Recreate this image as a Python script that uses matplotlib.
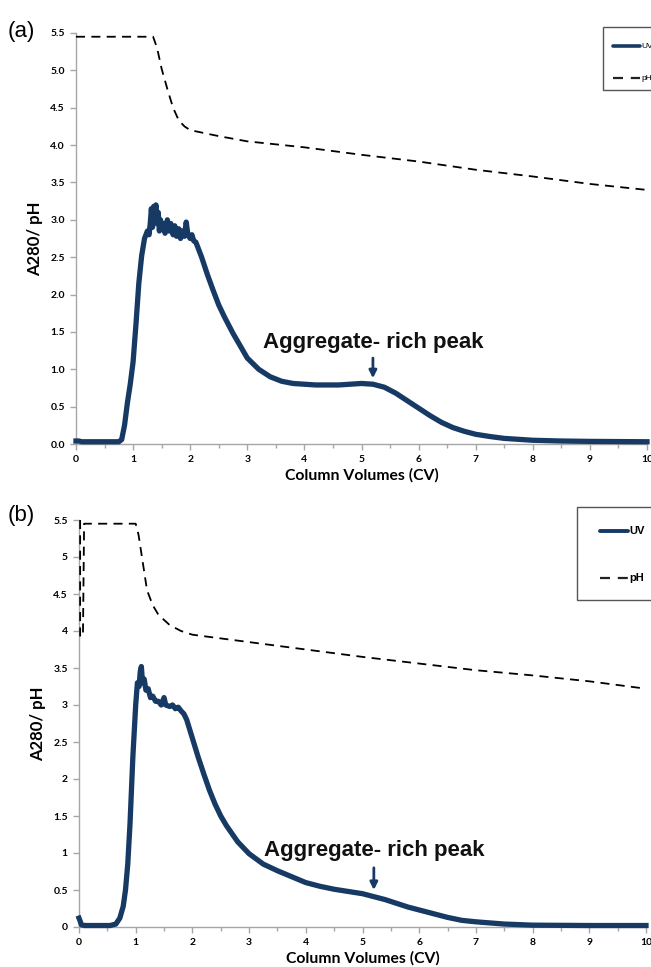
import matplotlib
matplotlib.use("Agg")
import matplotlib.pyplot as plt
from matplotlib.ticker import MultipleLocator, FormatStrFormatter, FuncFormatter
from matplotlib.patches import Rectangle
from matplotlib.lines import Line2D

# ---------------- data ----------------
# Panel (a)
uv_a_x = [0, 0.05, 0.1, 0.75, 0.8, 0.85, 0.9, 0.95, 1.0, 1.05, 1.1, 1.15, 1.2, 1.25, 1.28,
          1.3, 1.32, 1.34, 1.36, 1.38, 1.40, 1.42, 1.44, 1.46, 1.48, 1.50, 1.53, 1.56, 1.6,
          1.63, 1.66, 1.7, 1.73, 1.76, 1.8, 1.83, 1.86, 1.9, 1.93, 1.96, 2.0, 2.03, 2.06,
          2.1, 2.15, 2.2, 2.3, 2.4, 2.5, 2.6, 2.75, 3.0, 3.2, 3.4, 3.6, 3.8, 4.0, 4.2, 4.4,
          4.6, 4.8, 5.0, 5.2, 5.4, 5.6, 5.8, 6.0, 6.2, 6.4, 6.6, 6.8, 7.0, 7.25, 7.5, 8.0,
          8.5, 9.0, 10.0]
uv_a_y = [0.04, 0.04, 0.03, 0.03, 0.06, 0.25, 0.55, 0.8, 1.1, 1.6, 2.15, 2.52, 2.75, 2.85, 2.8,
          2.95, 3.15, 2.9, 3.18, 3.1, 3.2, 2.95, 3.1, 2.85, 3.0, 2.88, 2.95, 2.82, 3.0,
          2.85, 2.95, 2.8, 2.92, 2.78, 2.88, 2.75, 2.85, 2.78, 2.97, 2.8, 2.75, 2.8, 2.72,
          2.7, 2.6, 2.5, 2.27, 2.06, 1.86, 1.7, 1.48, 1.15, 1.0, 0.9, 0.84, 0.81, 0.8, 0.79, 0.79,
          0.79, 0.8, 0.81, 0.8, 0.76, 0.68, 0.58, 0.48, 0.38, 0.29, 0.22, 0.17, 0.13, 0.1, 0.075, 0.05,
          0.04, 0.035, 0.03]
ph_a_x = [0, 1.35, 1.42, 1.5, 1.6, 1.7, 1.8, 1.9, 2.0, 2.5, 3.0, 4.0, 5.0, 6.0, 7.0, 8.0, 9.0, 10.0]
ph_a_y = [5.45, 5.45, 5.3, 5.02, 4.75, 4.5, 4.33, 4.25, 4.2, 4.12, 4.05, 3.97, 3.87, 3.78, 3.67, 3.58, 3.48, 3.4]

# Panel (b)
uv_b_x = [0, 0.02, 0.04, 0.1, 0.55, 0.65, 0.72, 0.78, 0.82, 0.86, 0.9, 0.95, 1.0, 1.03, 1.06,
          1.08, 1.1, 1.12, 1.15, 1.18, 1.22, 1.26, 1.3, 1.35, 1.4, 1.45, 1.5, 1.53, 1.6, 1.65,
          1.7, 1.75, 1.8, 1.85, 1.9, 2.0, 2.1, 2.2, 2.3, 2.4, 2.5, 2.6, 2.8, 3.0, 3.25, 3.5,
          3.75, 4.0, 4.25, 4.5, 4.75, 5.0, 5.2, 5.4, 5.6, 5.8, 6.0, 6.25, 6.5, 6.75, 7.0,
          7.5, 8.0, 9.0, 10.0]
uv_b_y = [0.12, 0.08, 0.03, 0.02, 0.02, 0.04, 0.12, 0.28, 0.5, 0.85, 1.4, 2.3, 3.0, 3.3, 3.25,
          3.45, 3.52, 3.3, 3.35, 3.2, 3.22, 3.1, 3.12, 3.05, 3.05, 3.0, 3.1, 3.0, 2.98, 3.0,
          2.95, 2.97, 2.92, 2.88, 2.8, 2.55, 2.3, 2.07, 1.85, 1.66, 1.5, 1.37, 1.15, 0.99, 0.85, 0.76,
          0.68, 0.6, 0.55, 0.51, 0.48, 0.45, 0.41, 0.37, 0.32, 0.27, 0.23, 0.18, 0.13, 0.09, 0.07,
          0.04, 0.025, 0.02, 0.02]
ph_b_x = [0.02, 0.02, 0.07, 0.09, 1.0, 1.05, 1.1, 1.2, 1.3, 1.4, 1.6, 1.8, 2.0, 3.0, 4.0, 5.0, 6.0, 7.0, 8.0, 9.0, 10.0]
ph_b_y = [5.5, 3.92, 3.95, 5.45, 5.45, 5.3, 5.05, 4.55, 4.35, 4.22, 4.08, 4.0, 3.95, 3.85, 3.75, 3.65, 3.56, 3.47, 3.4, 3.32, 3.22]

x_ticks = list(range(0, 11))
y_ticks = [0, 0.5, 1, 1.5, 2, 2.5, 3, 3.5, 4, 4.5, 5, 5.5]
legend_labels = ["UV", "pH"]
annot_text = "Aggregate- rich peak"

# ---------------- style ----------------
UV_COLOR = "#173a64"
SPINE = "#a6a6a6"
TICK_FONT = "Lato"
W, H = 651, 967

fig = plt.figure(figsize=(W / 100, H / 100), dpi=100)
fig.patch.set_facecolor("white")


def fx(px):
    return px / W


def fy(py):
    return 1 - py / H


def setup(ax, fmt):
    ax.set_xlim(0, 10)
    ax.set_ylim(0, 5.5)
    for s in ["top", "right"]:
        ax.spines[s].set_visible(False)
    for s in ["left", "bottom"]:
        ax.spines[s].set_color(SPINE)
        ax.spines[s].set_linewidth(1.0)
    ax.set_xticks(x_ticks)
    ax.xaxis.set_minor_locator(MultipleLocator(0.5))
    ax.set_yticks(y_ticks)
    ax.yaxis.set_major_formatter(fmt)
    ax.tick_params(axis="both", which="major", length=4, width=1, color=SPINE, direction="out",
                   labelsize=7.5, pad=4)
    ax.tick_params(axis="x", which="minor", length=3, width=1, color=SPINE, direction="out")
    for lab in ax.get_xticklabels() + ax.get_yticklabels():
        lab.set_fontfamily(TICK_FONT)
        lab.set_fontweight("bold")
    ax.set_xlabel("Column Volumes (CV)", fontsize=11.3, fontweight="bold", family=TICK_FONT, labelpad=3)
    ax.set_ylabel("A280/ pH", fontsize=12, fontweight="bold", family=TICK_FONT, labelpad=5)


def legend_box(left, top, bottom, y_uv, y_ph, x0, x1, fs, bold, uv_lw):
    fig.add_artist(Rectangle((fx(left), fy(bottom)), fx(700) - fx(left), fy(top) - fy(bottom),
                             transform=fig.transFigure, facecolor="white", edgecolor="#555555",
                             lw=1.0, zorder=5))
    fig.add_artist(Line2D([fx(x0), fx(x1)], [fy(y_uv), fy(y_uv)], transform=fig.transFigure,
                          color=UV_COLOR, lw=uv_lw, solid_capstyle="round", zorder=6))
    fig.add_artist(Line2D([fx(x0), fx(x1)], [fy(y_ph), fy(y_ph)], transform=fig.transFigure,
                          color="#222222", lw=1.6, linestyle=(0, (4.5, 3.5)), zorder=6))
    for lbl, yy in zip(legend_labels, [y_uv, y_ph]):
        fig.text(fx(x1 + 1.5), fy(yy), lbl, fontsize=fs, family="Liberation Sans",
                 fontweight="bold" if bold else "normal", va="center", ha="left", zorder=7)


def panel(ax, ux, uy, px, py, arrow_y0, arrow_y1, text_y):
    ax.plot(ux, uy, color=UV_COLOR, lw=3.8, solid_joinstyle="round", clip_on=False, zorder=3)
    ax.plot(px, py, color="black", lw=1.3, linestyle=(0, (5, 3.5)), zorder=4)
    ax.annotate("", xy=(5.2, arrow_y1), xytext=(5.2, arrow_y0),
                arrowprops=dict(arrowstyle="-|>", color=UV_COLOR, lw=2, mutation_scale=11,
                                shrinkA=0, shrinkB=0))
    ax.text(5.2, text_y, annot_text, ha="center", va="center", fontsize=16,
            fontweight="bold", family="Liberation Sans", color="#111111")


ax1 = fig.add_axes([fx(76), fy(444), (647 - 76) / W, (444 - 33) / H])
setup(ax1, FormatStrFormatter("%.1f"))
panel(ax1, uv_a_x, uv_a_y, ph_a_x, ph_a_y, 1.15, 0.88, 1.36)
legend_box(603, 27, 90, 46, 78, 613, 640, 6, False, 2.6)

ax2 = fig.add_axes([fx(79), fy(927), (646 - 79) / W, (927 - 520) / H])
setup(ax2, FuncFormatter(lambda v, p: f"{v:g}"))
panel(ax2, uv_b_x, uv_b_y, ph_b_x, ph_b_y, 0.8, 0.5, 1.04)
legend_box(577, 507, 600, 531, 578, 600, 628, 8, True, 2.8)

fig.text(fx(8), fy(31), "(a)", fontsize=16, family="Liberation Sans", va="center", ha="left")
fig.text(fx(8), fy(516), "(b)", fontsize=16, family="Liberation Sans", va="center", ha="left")

fig.savefig("out.png", dpi=100, facecolor="white")
